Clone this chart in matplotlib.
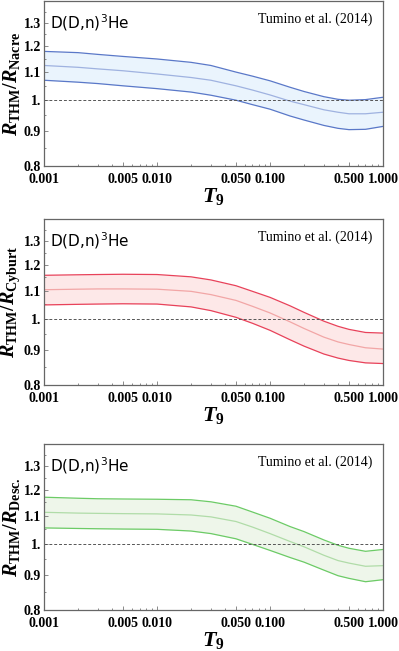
import numpy as np
import matplotlib
matplotlib.use("Agg")
import matplotlib.pyplot as plt
from matplotlib.ticker import FixedLocator, NullFormatter
from matplotlib.transforms import ScaledTranslation

plt.rcParams['mathtext.fontset'] = 'custom'
plt.rcParams['mathtext.it'] = 'Liberation Serif:italic:bold'
plt.rcParams['mathtext.rm'] = 'Liberation Serif:bold'
plt.rcParams['mathtext.bf'] = 'Liberation Serif:bold'

# temperature grid (T9)
T9 = [0.001, 0.002, 0.003, 0.005, 0.01, 0.02, 0.03, 0.05, 0.07, 0.1,
      0.15, 0.2, 0.3, 0.4, 0.5, 0.7, 1.0]

# ratio THM / NACRE
nacre_hi = [1.180, 1.175, 1.168, 1.160, 1.150, 1.137, 1.125, 1.100, 1.085, 1.068,
            1.045, 1.030, 1.012, 1.003, 1.000, 1.002, 1.010]
nacre_mid = [1.125, 1.118, 1.112, 1.105, 1.093, 1.080, 1.070, 1.050, 1.035, 1.018,
             0.997, 0.985, 0.968, 0.960, 0.955, 0.955, 0.960]
nacre_lo = [1.070, 1.063, 1.058, 1.050, 1.040, 1.028, 1.017, 1.000, 0.985, 0.970,
            0.948, 0.935, 0.918, 0.909, 0.905, 0.906, 0.915]

# ratio THM / Cyburt
cyb_hi = [1.158, 1.160, 1.161, 1.162, 1.161, 1.152, 1.140, 1.118, 1.097, 1.075,
          1.045, 1.022, 0.992, 0.975, 0.965, 0.955, 0.953]
cyb_mid = [1.103, 1.105, 1.106, 1.106, 1.105, 1.097, 1.085, 1.064, 1.043, 1.020,
           0.990, 0.968, 0.940, 0.925, 0.917, 0.907, 0.903]
cyb_lo = [1.048, 1.050, 1.051, 1.052, 1.051, 1.041, 1.028, 1.005, 0.985, 0.962,
          0.932, 0.912, 0.888, 0.876, 0.869, 0.862, 0.860]

# ratio THM / Descouvemont
desc_hi = [1.170, 1.166, 1.164, 1.163, 1.162, 1.160, 1.152, 1.135, 1.113, 1.090,
           1.060, 1.042, 1.013, 0.995, 0.985, 0.975, 0.981]
desc_mid = [1.112, 1.109, 1.108, 1.107, 1.106, 1.102, 1.095, 1.078, 1.058, 1.035,
            1.008, 0.990, 0.962, 0.945, 0.937, 0.927, 0.929]
desc_lo = [1.055, 1.053, 1.052, 1.051, 1.050, 1.044, 1.035, 1.017, 0.998, 0.978,
           0.955, 0.940, 0.915, 0.898, 0.890, 0.880, 0.886]

ylabels = [r'$R_{\mathrm{THM}}/R_{\mathrm{Nacre}}$',
           r'$R_{\mathrm{THM}}/R_{\mathrm{Cyburt}}$',
           r'$R_{\mathrm{THM}}/R_{\mathrm{Desc.}}$']

yticks = [0.8, 0.9, 1.0, 1.1, 1.2, 1.3]
ytick_labels = ['0.8', '0.9', '1.', '1.1', '1.2', '1.3']
xticks = [0.001, 0.005, 0.01, 0.05, 0.1, 0.5, 1.0]
xtick_labels = ['0.001', '0.005', '0.010', '0.050', '0.100', '0.500', '1.000']

panels = [
    (nacre_lo, nacre_mid, nacre_hi, '#5a78c8', '#9fb2e0', '#eaf4fd'),
    (cyb_lo, cyb_mid, cyb_hi, '#e8425a', '#f2a6a6', '#fde8e8'),
    (desc_lo, desc_mid, desc_hi, '#6ccb66', '#b0dca8', '#eef6ea'),
]

fig = plt.figure(figsize=(3.99, 6.51), dpi=100)
rects = [[0.1103, 0.745, 0.8496, 0.2535],
         [0.1103, 0.4086, 0.8496, 0.255],
         [0.1103, 0.063, 0.8496, 0.255]]

minor = []
for dec in [0.001, 0.01, 0.1]:
    for m in [2, 3, 4, 6, 7, 8, 9]:
        minor.append(m * dec)

serif = 'Liberation Serif'
for i, (lo, mid, hi, lc, mc, fc) in enumerate(panels):
    ax = fig.add_axes(rects[i])
    ax.fill_between(T9, lo, hi, color=fc, lw=0)
    ax.plot(T9, hi, color=lc, lw=0.9)
    ax.plot(T9, lo, color=lc, lw=0.9)
    ax.plot(T9, mid, color=mc, lw=0.9)
    ax.axhline(1.0, color='#555555', lw=0.7, ls=(0, (3, 2)))
    ax.set_xscale('log')
    ax.set_yscale('log')
    ax.set_xlim(0.001, 1.0)
    ax.set_ylim(0.8, 1.4)

    ax.xaxis.set_major_locator(FixedLocator(xticks))
    ax.set_xticklabels(xtick_labels, fontfamily=serif, fontweight='bold', fontsize=10)
    ax.xaxis.set_minor_locator(FixedLocator(minor))
    ax.xaxis.set_minor_formatter(NullFormatter())
    ax.yaxis.set_major_locator(FixedLocator(yticks))
    ylbls = ax.set_yticklabels(ytick_labels, fontfamily=serif, fontweight='bold', fontsize=10)
    # lift the bottom label a little so it clears 0.001
    ylbls[0].set_transform(ylbls[0].get_transform() + ScaledTranslation(0, 3 / 72, fig.dpi_scale_trans))
    ax.yaxis.set_minor_locator(FixedLocator([0.85, 0.95, 1.05, 1.15, 1.25, 1.35]))
    ax.yaxis.set_minor_formatter(NullFormatter())
    ax.tick_params(which='both', direction='in', color='#777777', width=0.6)
    ax.tick_params(axis='x', pad=5)
    ax.tick_params(axis='y', pad=2)
    ax.tick_params(which='major', length=3)
    ax.tick_params(which='minor', length=1.5)
    for s in ax.spines.values():
        s.set_color('#666666')
        s.set_linewidth(0.9)

    ax.set_xlabel(r'$T_9$', fontsize=16, labelpad=0)
    ax.set_ylabel(ylabels[i], fontsize=14.5, labelpad=1)

    ax.text(0.018, 0.93, r'D(D,n)$^{3}$He', transform=ax.transAxes, ha='left', va='top',
            fontsize=11, fontfamily='DejaVu Sans', math_fontfamily='dejavusans')
    ax.text(0.97, 0.93, 'Tumino et al. (2014)', transform=ax.transAxes, ha='right', va='top',
            fontsize=10, fontfamily=serif)

fig.savefig('out.png', dpi=100)
